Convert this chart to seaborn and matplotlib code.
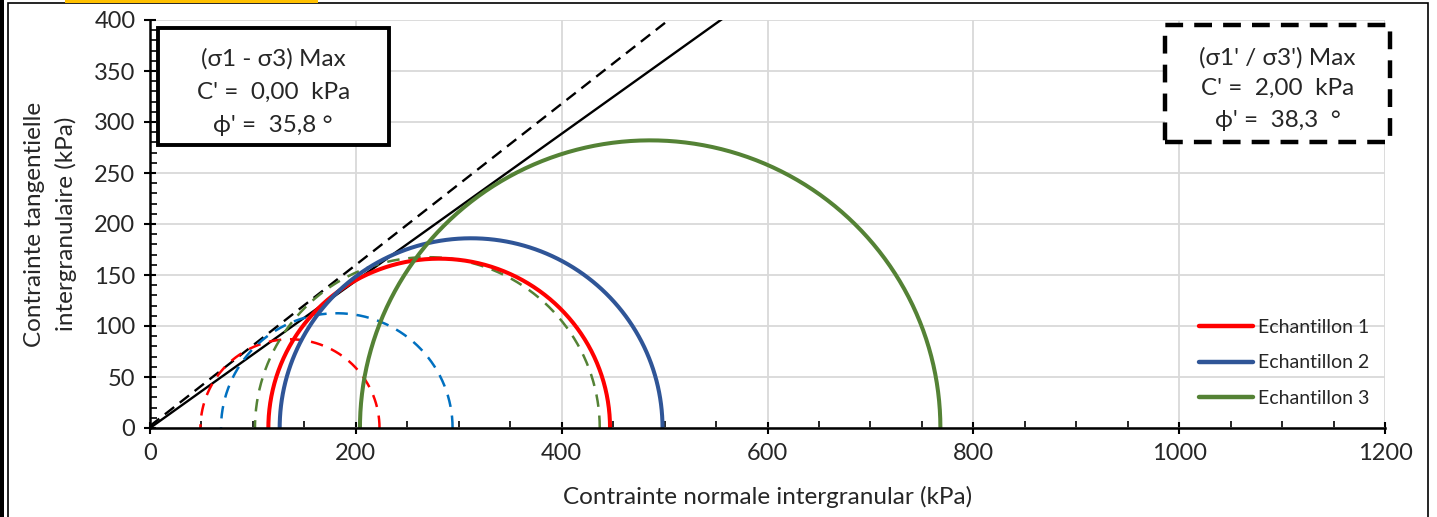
import numpy as np
import pandas as pd
import seaborn as sns
from matplotlib import pyplot as plt
from matplotlib.patches import Rectangle
from matplotlib.lines import Line2D

sns.set_style('white')
plt.rcParams['font.family'] = ['Lato', 'Open Sans', 'DejaVu Sans']

# Mohr circles: (sigma3, sigma1) in kPa
samples = ['Echantillon 1', 'Echantillon 2', 'Echantillon 3']
s3_solid = [115, 126, 204]
s1_solid = [447, 498, 768]
s3_dash = [49, 69, 102]
s1_dash = [223, 294, 437]
solid_colors = ['#FF0000', '#2F5597', '#548235']
dash_colors = ['#FF0000', '#0070C0', '#548235']

# failure envelopes
c_max_dev, phi_max_dev = 0.00, 35.8      # (s1 - s3) max
c_max_ratio, phi_max_ratio = 2.00, 38.3  # (s1'/s3') max

x_ticks = [0, 200, 400, 600, 800, 1000, 1200]
y_ticks = [0, 50, 100, 150, 200, 250, 300, 350, 400]

theta = np.linspace(0, np.pi, 400)


def circle(s3, s1):
    c = (s1 + s3) / 2
    r = (s1 - s3) / 2
    return pd.DataFrame({'x': c + r * np.cos(theta), 'y': r * np.sin(theta)})


fig = plt.figure(figsize=(14.37, 5.17), dpi=100)
ax = fig.add_axes([150 / 1437, 1 - 428 / 517, 1235 / 1437, 408 / 517])

ax.grid(True, color='#D9D9D9', linewidth=1.3, zorder=0)
ax.set_axisbelow(True)

xs = np.linspace(0, 1200, 50)
env1 = pd.DataFrame({'x': xs, 'y': c_max_dev + xs * np.tan(np.radians(phi_max_dev))})
env2 = pd.DataFrame({'x': xs, 'y': c_max_ratio + xs * np.tan(np.radians(phi_max_ratio))})
sns.lineplot(data=env1, x='x', y='y', color='black', linewidth=1.7, ax=ax)
sns.lineplot(data=env2, x='x', y='y', color='black', linewidth=1.7, ax=ax,
             linestyle=(0, (5, 3)))

for s3, s1, col in zip(s3_dash, s1_dash, dash_colors):
    sns.lineplot(data=circle(s3, s1), x='x', y='y', sort=False, estimator=None,
                 color=col, linewidth=1.8, linestyle=(0, (5, 3.5)), ax=ax)

for s3, s1, col in zip(s3_solid, s1_solid, solid_colors):
    sns.lineplot(data=circle(s3, s1), x='x', y='y', sort=False, estimator=None,
                 color=col, linewidth=2.9, ax=ax)

ax.set_xlim(0, 1200)
ax.set_ylim(0, 400)
ax.set_xticks(x_ticks)
ax.set_yticks(y_ticks)
ax.set_xticks(np.arange(0, 1201, 50), minor=True)
ax.set_yticks(np.arange(0, 401, 10), minor=True)
ax.tick_params(which='major', direction='inout', length=9, width=1.5, labelsize=17, pad=6,
               color='black', bottom=True, left=True)
ax.tick_params(which='minor', direction='in', length=5, width=1.2, color='black',
               bottom=True, left=True)
for s in ['top', 'right']:
    ax.spines[s].set_visible(False)
for s in ['left', 'bottom']:
    ax.spines[s].set_color('black')
    ax.spines[s].set_linewidth(1.8)

ax.set_xlabel('Contrainte normale intergranular (kPa)', fontsize=17.5, labelpad=16)
ax.set_ylabel('Contrainte tangentielle\nintergranulaire (kPa)', fontsize=17.5, labelpad=12,
              linespacing=1.55)

handles = [Line2D([], [], color=c, linewidth=3.2) for c in solid_colors]
ax.legend(handles, samples, loc='upper left', bbox_to_anchor=(0.835, 0.31), frameon=False,
          fontsize=14, handlelength=2.8, labelspacing=0.95, handletextpad=0.25)

# annotation boxes
ax.add_patch(Rectangle((0.0065, 0.694), 0.187, 0.286, transform=ax.transAxes,
                       facecolor='white', edgecolor='black', linewidth=2.8, zorder=5,
                       clip_on=False))
ax.text(0.0998, 0.823, "(σ1 - σ3) Max\nC' =  0,00  kPa\nϕ' =  35,8 °",
        transform=ax.transAxes, ha='center', va='center', fontsize=17.5,
        linespacing=1.7, zorder=6)
ax.add_patch(Rectangle((0.822, 0.701), 0.182, 0.287, transform=ax.transAxes,
                       facecolor='white', edgecolor='black', linewidth=3.2,
                       linestyle=(0, (4, 2.5)), zorder=5, clip_on=False))
ax.text(0.913, 0.832, "(σ1' / σ3') Max\nC' =  2,00  kPa\nϕ' =  38,3  °",
        transform=ax.transAxes, ha='center', va='center', fontsize=17.5,
        linespacing=1.6, zorder=6)

# outer frame of the screenshot
fig.patches.append(Rectangle((8 / 1437, -0.01), 1420 / 1437, 1 - 3 / 517 + 0.01,
                             transform=fig.transFigure, fill=False, edgecolor='black',
                             linewidth=1.2))
fig.patches.append(Rectangle((0, 0), 4 / 1437, 1, transform=fig.transFigure,
                             facecolor='black', edgecolor='none'))
fig.patches.append(Rectangle((65 / 1437, 1 - 3 / 517), 253 / 1437, 3 / 517,
                             transform=fig.transFigure, facecolor='#FFC000', edgecolor='none'))

fig.savefig('out.png', dpi=100)
